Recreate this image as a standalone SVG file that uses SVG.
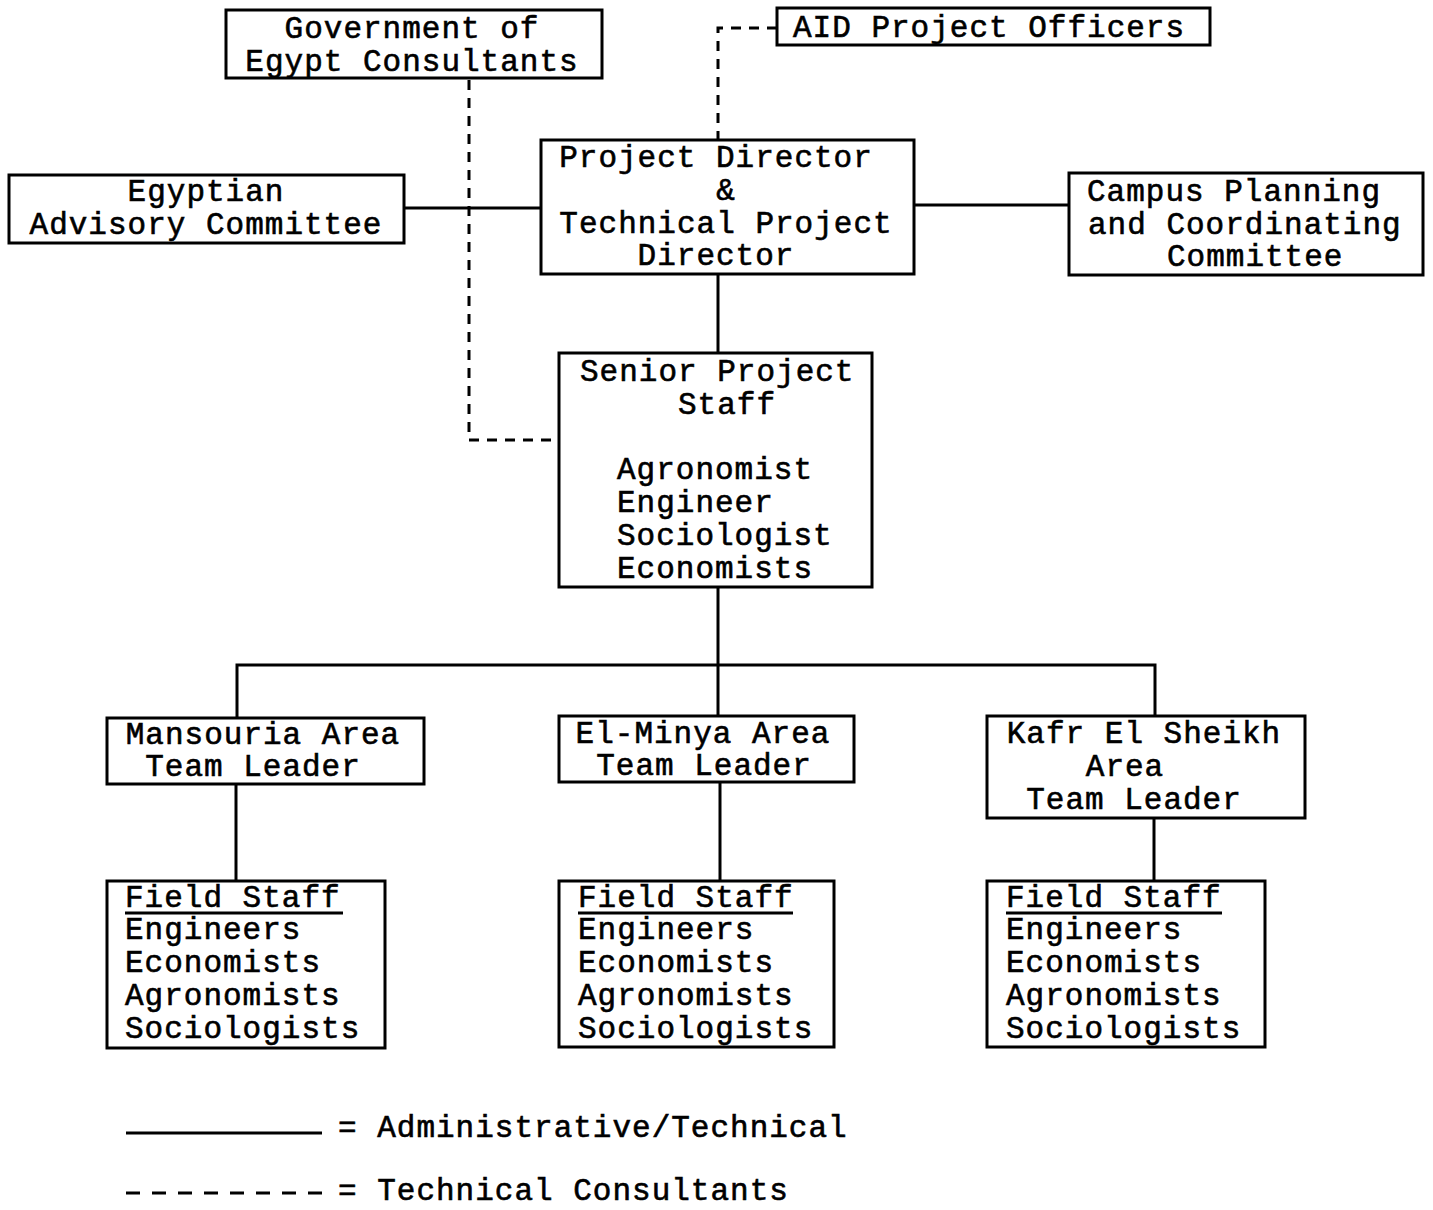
<svg xmlns="http://www.w3.org/2000/svg" width="1433" height="1210" viewBox="0 0 1433 1210">
<style>
.box{fill:#fff;stroke:#000;stroke-width:3}
.t{font-family:"Liberation Mono","Courier New",monospace;font-size:31px;letter-spacing:1px;fill:#000;stroke:#000;stroke-width:0.6}
.c{text-anchor:middle}
.s{fill:none;stroke:#000;stroke-width:3}
.d{fill:none;stroke:#000;stroke-width:3;stroke-dasharray:10 8}
.ld{fill:none;stroke:#000;stroke-width:3;stroke-dasharray:14 12}
</style>
<rect width="1433" height="1210" fill="#fff"/>
<g id="connectors">
<path class="s" d="M404 208H541"/>
<path class="s" d="M914 205H1069"/>
<path class="s" d="M718 274V353"/>
<path class="s" d="M718 587V665"/>
<path class="s" d="M237 718V665H1155V716"/>
<path class="s" d="M718 665V716"/>
<path class="s" d="M236 784V881"/>
<path class="s" d="M720 782V881"/>
<path class="s" d="M1154 818V881"/>
<path class="d" d="M469 80V440H559"/>
<path class="d" d="M777 28H718V140"/>
</g>
<g id="gov"><rect class="box" x="226" y="10" width="376" height="68"/>
<text class="t c" x="412" y="38">Government of</text><text class="t c" x="412" y="71">Egypt Consultants</text></g>
<g id="aid"><rect class="box" x="777" y="8" width="433" height="37"/>
<text class="t" x="793" y="37">AID Project Officers</text></g>
<g id="pd"><rect class="box" x="541" y="140" width="373" height="134"/>
<text class="t c" x="716" y="167">Project Director</text><text class="t c" x="726" y="200">&amp;</text>
<text class="t c" x="726" y="233">Technical Project</text><text class="t c" x="716" y="265">Director</text></g>
<g id="eac"><rect class="box" x="9" y="175" width="395" height="68"/>
<text class="t c" x="206" y="201">Egyptian</text><text class="t c" x="206" y="234">Advisory Committee</text></g>
<g id="campus"><rect class="box" x="1069" y="173" width="354" height="102"/>
<text class="t" x="1087" y="201">Campus Planning</text><text class="t" x="1088" y="234">and Coordinating</text><text class="t" x="1167" y="266">Committee</text></g>
<g id="sps"><rect class="box" x="559" y="353" width="313" height="234"/>
<text class="t" x="580" y="381">Senior Project</text><text class="t" x="678" y="414">Staff</text>
<text class="t" x="617" y="479">Agronomist</text><text class="t" x="617" y="512">Engineer</text>
<text class="t" x="617" y="545">Sociologist</text><text class="t" x="617" y="578">Economists</text></g>
<g id="mansouria"><rect class="box" x="107" y="718" width="317" height="66"/>
<text class="t c" x="263" y="744">Mansouria Area</text><text class="t c" x="253" y="776">Team Leader</text></g>
<g id="minya"><rect class="box" x="559" y="716" width="295" height="66"/>
<text class="t c" x="703" y="743">El-Minya Area</text><text class="t c" x="704" y="775">Team Leader</text></g>
<g id="kafr"><rect class="box" x="987" y="716" width="318" height="102"/>
<text class="t c" x="1144" y="743">Kafr El Sheikh</text><text class="t c" x="1125" y="776">Area</text><text class="t c" x="1134" y="809">Team Leader</text></g>
<g id="fs1"><rect class="box" x="107" y="881" width="278" height="167"/>
<text class="t" x="125" y="907">Field Staff</text><path class="s" d="M125 913H343" stroke-width="2"/>
<text class="t" x="125" y="939">Engineers</text><text class="t" x="125" y="972">Economists</text>
<text class="t" x="125" y="1005">Agronomists</text><text class="t" x="125" y="1038">Sociologists</text></g>
<g id="fs2"><rect class="box" x="559" y="881" width="275" height="166"/>
<text class="t" x="578" y="907">Field Staff</text><path class="s" d="M578 913H793" stroke-width="2"/>
<text class="t" x="578" y="939">Engineers</text><text class="t" x="578" y="972">Economists</text>
<text class="t" x="578" y="1005">Agronomists</text><text class="t" x="578" y="1038">Sociologists</text></g>
<g id="fs3"><rect class="box" x="987" y="881" width="278" height="166"/>
<text class="t" x="1006" y="907">Field Staff</text><path class="s" d="M1006 913H1222" stroke-width="2"/>
<text class="t" x="1006" y="939">Engineers</text><text class="t" x="1006" y="972">Economists</text>
<text class="t" x="1006" y="1005">Agronomists</text><text class="t" x="1006" y="1038">Sociologists</text></g>
<g id="legend">
<path class="s" d="M126 1133H322" stroke-width="2"/>
<text class="t" x="338" y="1137">= Administrative/Technical</text>
<path class="ld" d="M126 1193H322"/>
<text class="t" x="338" y="1200">= Technical Consultants</text>
</g>
</svg>
